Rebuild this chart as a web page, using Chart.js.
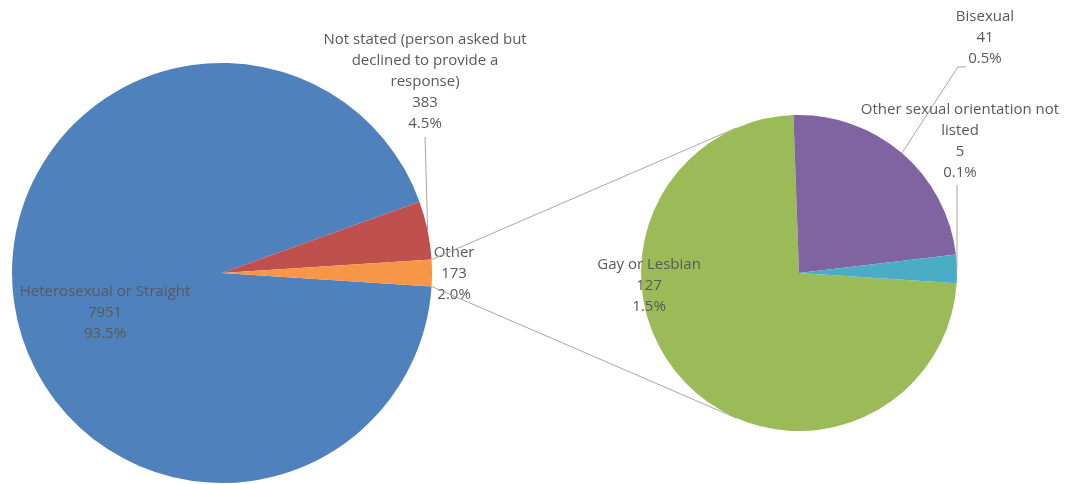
<!DOCTYPE html>
<html>
<head>
<meta charset="utf-8">
<script src="https://cdn.jsdelivr.net/npm/chart.js@4.4.0/dist/chart.umd.min.js"></script>
<style>
  html, body { margin: 0; padding: 0; background: #fff; }
  #wrap { position: relative; width: 1070px; height: 484px; }
  #wrap canvas { position: absolute; left: 0; top: 0; }
</style>
</head>
<body>
<div id="wrap">
  <canvas id="mainPie" width="1070" height="484"></canvas>
  <canvas id="otherPie" width="1070" height="484"></canvas>
</div>
<script>
// Data
const mainCategories = ['Heterosexual or Straight', 'Not stated (person asked but declined to provide a response)', 'Other'];
const mainValues = [7951, 383];
const otherCategories = ['Gay or Lesbian', 'Bisexual', 'Other sexual orientation not listed'];
const otherValues = [127, 41, 5];

const otherTotal = otherValues.reduce((a, b) => a + b, 0);
const mainData = mainValues.concat([otherTotal]);
const grandTotal = mainData.reduce((a, b) => a + b, 0);

const mainColors = ['#4f81bd', '#c0504d', '#f79646'];
const otherColors = ['#9bbb59', '#8064a2', '#4bacc6'];

const FONT = '15px "Open Sans"';
const LINE_H = 21;
const TEXT_COLOR = '#595959';
const LINE_COLOR = '#a6a6a6';

function pct(v) {
  return (v / grandTotal * 100).toFixed(1) + '%';
}

function wrapText(ctx, text, maxWidth) {
  const words = text.split(' ');
  const lines = [];
  let cur = '';
  words.forEach(w => {
    const test = cur ? cur + ' ' + w : w;
    if (cur && ctx.measureText(test).width > maxWidth) {
      lines.push(cur);
      cur = w;
    } else {
      cur = test;
    }
  });
  if (cur) lines.push(cur);
  return lines;
}

// Data labels placed relative to each pie's centre (in units of its radius)
const sliceLabels = {
  id: 'sliceLabels',
  afterDatasetsDraw(chart, args, opts) {
    const ctx = chart.ctx;
    const meta = chart.getDatasetMeta(0);
    const values = chart.data.datasets[0].data;
    ctx.save();
    ctx.font = FONT;
    ctx.fillStyle = TEXT_COLOR;
    ctx.textAlign = 'center';
    ctx.textBaseline = 'middle';
    opts.items.forEach((item, i) => {
      const arc = meta.data[i];
      const cx = arc.x, cy = arc.y, r = arc.outerRadius;
      const x = cx + item.fx * r;
      const y = cy + item.fy * r;
      const lines = wrapText(ctx, chart.data.labels[i], item.wrap || 999)
        .concat([String(values[i]), pct(values[i])]);
      lines.forEach((t, k) => ctx.fillText(t, x, y + k * LINE_H));

      if (item.leader) {
        const mid = (arc.startAngle + arc.endAngle) / 2;
        ctx.strokeStyle = LINE_COLOR;
        ctx.lineWidth = 1;
        ctx.beginPath();
        item.leader.forEach((p, k) => {
          const px = cx + p[0] * r, py = cy + p[1] * r;
          if (k === 0) ctx.moveTo(px, py); else ctx.lineTo(px, py);
        });
        ctx.lineTo(cx + r * Math.cos(mid), cy + r * Math.sin(mid));
        ctx.stroke();
      }
    });
    ctx.restore();
  }
};

const mainChart = new Chart(document.getElementById('mainPie'), {
  type: 'pie',
  data: {
    labels: mainCategories,
    datasets: [{
      data: mainData,
      backgroundColor: mainColors,
      borderWidth: 0
    }]
  },
  options: {
    responsive: false,
    animation: false,
    // centre the split-out slice on the right horizontal
    rotation: 90 + otherTotal / grandTotal * 180,
    layout: { padding: { left: 12, right: 638, top: 63, bottom: 1 } },
    plugins: {
      legend: { display: false },
      tooltip: { enabled: false },
      sliceLabels: {
        items: [
          { fx: -0.557, fy: 0.09 },
          { fx: 0.967, fy: -1.11, wrap: 215, leader: [[0.967, -0.648]] },
          { fx: 1.105, fy: -0.095 }
        ]
      }
    }
  },
  plugins: [sliceLabels]
});

// Lines from the "Other" slice to the second pie (tangents)
const connectors = {
  id: 'connectors',
  beforeDatasetsDraw(chart) {
    const src = mainChart.getDatasetMeta(0).data[2];
    const dst = chart.getDatasetMeta(0).data[0];
    const cx = dst.x, cy = dst.y, r = dst.outerRadius;
    const ctx = chart.ctx;
    ctx.save();
    ctx.strokeStyle = LINE_COLOR;
    ctx.lineWidth = 1;
    [[src.startAngle, -1], [src.endAngle, 1]].forEach(([a, side]) => {
      const px = src.x + src.outerRadius * Math.cos(a);
      const py = src.y + src.outerRadius * Math.sin(a);
      const th = Math.atan2(py - cy, px - cx);
      const al = Math.acos(r / Math.hypot(px - cx, py - cy));
      const t = th - side * al;
      ctx.beginPath();
      ctx.moveTo(px, py);
      ctx.lineTo(cx + r * Math.cos(t), cy + r * Math.sin(t));
      ctx.stroke();
    });
    ctx.restore();
  }
};

new Chart(document.getElementById('otherPie'), {
  type: 'pie',
  data: {
    labels: otherCategories,
    datasets: [{
      data: otherValues,
      backgroundColor: otherColors,
      borderWidth: 0
    }]
  },
  options: {
    responsive: false,
    animation: false,
    rotation: 93.7,
    layout: { padding: { left: 641, right: 113, top: 115, bottom: 53 } },
    plugins: {
      legend: { display: false },
      tooltip: { enabled: false },
      sliceLabels: {
        items: [
          { fx: -0.949, fy: -0.051 },
          { fx: 1.177, fy: -1.62, leader: [[1.057, -1.304], [1.006, -1.304]] },
          { fx: 1.019, fy: -1.032, wrap: 215, leader: [[1.0, -0.557]] }
        ]
      }
    }
  },
  plugins: [connectors, sliceLabels]
});
</script>
</body>
</html>
